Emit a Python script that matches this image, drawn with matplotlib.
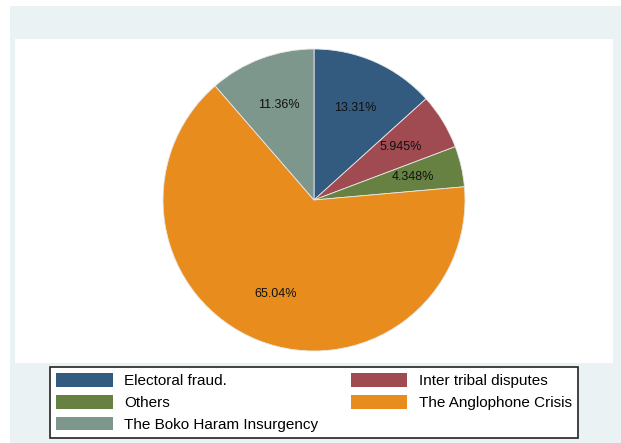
import matplotlib.pyplot as plt
from matplotlib.patches import Rectangle, Patch

# Data
categories = ["Electoral fraud.", "Inter tribal disputes", "Others",
              "The Anglophone Crisis", "The Boko Haram Insurgency"]
shares = [13.31, 5.945, 4.348, 65.04, 11.36]
colors = ["#335B80", "#A04A51", "#668142", "#E88D1D", "#7E978D"]

W, H = 621, 443
plt.rcParams['font.family'] = ['Liberation Sans', 'DejaVu Sans']

fig = plt.figure(figsize=(W / 100, H / 100), dpi=100)
fig.patch.set_facecolor("white")


def px(x0, y0, x1, y1):
    # pixel box (top-left origin) -> figure fraction rect
    return (x0 / W, 1 - y1 / H, (x1 - x0) / W, (y1 - y0) / H)


# outer light panel and inner white plot region
l, b, w, h = px(10, 6, 621, 443)
fig.add_artist(Rectangle((l, b), w, h, transform=fig.transFigure,
                         facecolor="#EAF2F3", edgecolor="none", zorder=0))
l, b, w, h = px(15, 39, 613, 363)
fig.add_artist(Rectangle((l, b), w, h, transform=fig.transFigure,
                         facecolor="white", edgecolor="none", zorder=0))

# pie centred at (314, 200) with radius 151 px
cx, cy, r = 314, 200, 151
ax = fig.add_axes(px(cx - r, cy - r, cx + r, cy + r))
ax.set_zorder(2)
wedges, texts, autotexts = ax.pie(
    shares, colors=colors, startangle=90, counterclock=False,
    autopct=lambda p: "", pctdistance=0.67,
    wedgeprops=dict(edgecolor="#E8E8E8", linewidth=0.6))
for t, v in zip(autotexts, shares):
    t.set_text(f"{v:.4g}%")
    t.set_fontsize(9)
    t.set_color("#111111")
ax.set_xlim(-1, 1)
ax.set_ylim(-1, 1)
ax.axis("off")

# legend, filled row-wise like the original
order = [0, 2, 4, 1, 3]
handles = [Patch(facecolor=colors[i], edgecolor="none") for i in order]
labels = [categories[i] for i in order]
l, b, w, h = px(50, 367, 578, 439)
leg = fig.legend(handles, labels, ncol=2, loc="upper left",
                 bbox_to_anchor=(l, b, w, h), mode="expand",
                 fontsize=11, frameon=True, fancybox=False, framealpha=1,
                 facecolor="white", edgecolor="#222222",
                 handlelength=3.7, handleheight=1.0,
                 handletextpad=0.75, labelspacing=0.43, borderpad=0.42,
                 borderaxespad=0.0, columnspacing=1.5)
leg.get_frame().set_linewidth(1.2)

fig.savefig("out.png", dpi=100)
